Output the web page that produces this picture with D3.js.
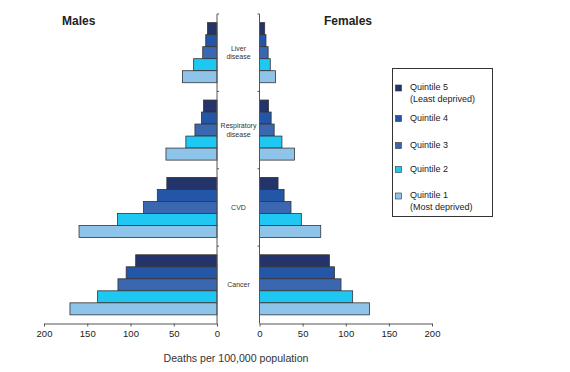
<!DOCTYPE html>
<html>
<head>
<meta charset="utf-8">
<script src="https://cdn.jsdelivr.net/npm/d3@7"></script>
<style>
  body { margin: 0; background: #fff; }
  text { font-family: "Liberation Sans", Arial, sans-serif; fill: #222; }
  .axis path, .axis line { stroke: #555; }
  .axis text { font-size: 9.5px; fill: #222; }
</style>
</head>
<body>
<div id="chart"></div>
<script>
const causes = ["Liver disease", "Respiratory disease", "CVD", "Cancer"],
    quintiles = ["Quintile 5", "Quintile 4", "Quintile 3", "Quintile 2", "Quintile 1"],
    legendNotes = ["(Least deprived)", "", "", "", "(Most deprived)"],
    colors = ["#25336b", "#2356a6", "#3b67b0", "#1ec8f2", "#8ec3ea"],
    ticks = [0, 50, 100, 150, 200]

// rows follow causes, columns follow quintiles (5 -> 1)
const males = [
  [11, 13, 16.5, 27, 40],
  [15.5, 18, 25.5, 36, 59],
  [58, 69, 85, 115, 159.5],
  [94, 105, 114.5, 138, 170]
]
const females = [
  [6, 7.5, 10, 12.5, 18.5],
  [10.5, 13.5, 17, 26, 40.5],
  [21.5, 28.5, 36.5, 48.5, 71],
  [81, 87, 94.5, 108, 127.5]
]

const w = 570, h = 372,
    plotTop = 14, plotBottom = 323.5,
    xL = d3.scaleLinear().domain([0, 200]).range([217, 44]),
    xR = d3.scaleLinear().domain([0, 200]).range([259.5, 432]),
    yCause = d3.scaleBand().domain(causes).range([plotTop, plotBottom]),
    yQ = d3.scaleBand().domain(quintiles).range([0, yCause.bandwidth()])
      .paddingInner(0).paddingOuter(0.72)

const svg = d3.select("#chart").append("svg")
  .attr("width", w)
  .attr("height", h)

const drawSide = (data, x, left) => {
  const g = svg.append("g")
  causes.forEach((c, i) => {
    g.selectAll(null)
      .data(data[i])
      .join("rect")
      .attr("x", d => left ? x(d) : x(0))
      .attr("width", d => Math.abs(x(d) - x(0)))
      .attr("y", (d, j) => yCause(c) + yQ(quintiles[j]))
      .attr("height", yQ.bandwidth())
      .attr("fill", (d, j) => colors[j])
      .attr("stroke", "#333")
      .attr("stroke-width", 0.8)
  })

  // bottom axis
  svg.append("g")
    .attr("class", "axis")
    .attr("transform", `translate(0, ${plotBottom})`)
    .call(d3.axisBottom(x).tickValues(ticks).tickSize(3).tickSizeOuter(0).tickPadding(4))

  // vertical axis with ticks at the category boundaries
  const vx = x(0)
  svg.append("line")
    .attr("x1", vx).attr("x2", vx)
    .attr("y1", plotTop).attr("y2", plotBottom)
    .attr("stroke", "#555")
  causes.forEach(c => {
    svg.append("line")
      .attr("x1", vx).attr("x2", left ? vx + 2 : vx - 2)
      .attr("y1", yCause(c)).attr("y2", yCause(c))
      .attr("stroke", "#555")
  })
}

drawSide(males, xL, true)
drawSide(females, xR, false)

// cause labels in the gap
const labelLines = [["Liver", "disease"], ["Respiratory", "disease"], ["CVD"], ["Cancer"]]
causes.forEach((c, i) => {
  const lines = labelLines[i],
      cy = yCause(c) + yCause.bandwidth() / 2
  lines.forEach((t, k) => {
    svg.append("text")
      .attr("x", 238.5)
      .attr("y", cy + (k - (lines.length - 1) / 2) * 8.5)
      .attr("dy", "0.35em")
      .attr("text-anchor", "middle")
      .style("font-size", "7px")
      .style("fill", "#333")
      .text(t)
  })
})

// panel titles
svg.append("text")
  .attr("x", 62).attr("y", 24.5)
  .style("font-size", "12px").style("font-weight", "bold")
  .text("Males")
svg.append("text")
  .attr("x", 324).attr("y", 24.5)
  .style("font-size", "12px").style("font-weight", "bold")
  .text("Females")

// axis title
svg.append("text")
  .attr("x", 236).attr("y", 361.5)
  .attr("text-anchor", "middle")
  .style("font-size", "10.6px")
  .style("fill", "#333")
  .text("Deaths per 100,000 population")

// legend
const legend = svg.append("g")
legend.append("rect")
  .attr("x", 392.5).attr("y", 68.5)
  .attr("width", 100).attr("height", 148)
  .attr("fill", "none")
  .attr("stroke", "#333")
const legendY = [87, 117.5, 144.5, 168.5, 195]
quintiles.forEach((q, i) => {
  legend.append("rect")
    .attr("x", 395.5).attr("y", legendY[i] - 2)
    .attr("width", 6).attr("height", 6)
    .attr("fill", colors[i])
    .attr("stroke", "#333")
    .attr("stroke-width", 0.6)
  legend.append("text")
    .attr("x", 410).attr("y", legendY[i])
    .attr("dy", "0.35em")
    .style("font-size", "9px")
    .text(q)
  if (legendNotes[i]) {
    legend.append("text")
      .attr("x", 410).attr("y", legendY[i] + 12)
      .attr("dy", "0.35em")
      .style("font-size", "9px")
      .text(legendNotes[i])
  }
})
</script>
</body>
</html>
